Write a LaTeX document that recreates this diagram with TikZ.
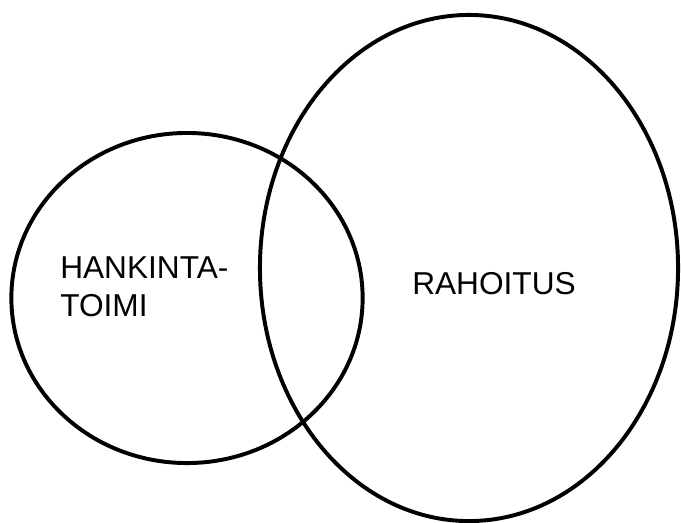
\documentclass[tikz,border=0pt]{standalone}
\usepackage{fontspec}
\setmainfont{Liberation Sans}
\usetikzlibrary{shapes.geometric}
\usetikzlibrary{positioning}
\tikzset{
  joukko/.style={draw, ellipse, line width=2.8pt, inner sep=0pt, minimum width=#1},
  nimi/.style={inner sep=0pt, align=left, font=\fontsize{22.5}{27}\selectfont},
}

\begin{document}
\begin{tikzpicture}[x=0.025cm, y=-0.025cm]
  \useasboundingbox (0,0) rectangle (681,522);
  \node[joukko=8.78cm, minimum height=8.25cm] (hankinta) at (187,298) {};
  \node[joukko=10.45cm, minimum height=12.65cm] (rahoitus) at (469,268) {};
  \node[nimi, anchor=base west] (hnimi) at (60,316) {HANKINTA-\\TOIMI};
  \node[nimi, anchor=base west] (rnimi) at (412,294) {RAHOITUS};
\end{tikzpicture}
\end{document}
